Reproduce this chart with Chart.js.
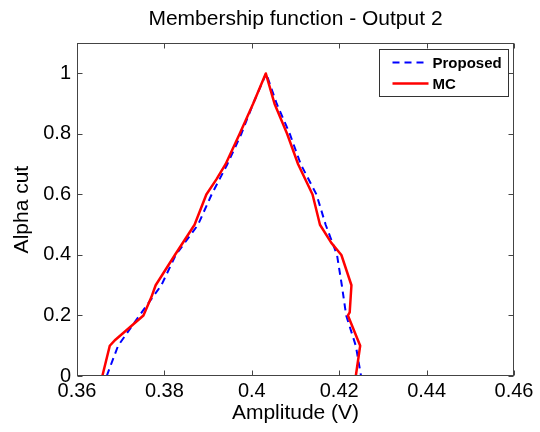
<!DOCTYPE html>
<html>
<head>
<meta charset="utf-8">
<script src="https://cdn.jsdelivr.net/npm/chart.js@4.4.0/dist/chart.umd.min.js"></script>
<style>html,body{margin:0;padding:0;background:#fff}canvas{display:block}</style>
</head>
<body>
<canvas id="c" width="540" height="432"></canvas>
<script>
// ── DATA ──
const xTicks=[0.36,0.38,0.40,0.42,0.44,0.46];
const yTicks=[0,0.2,0.4,0.6,0.8,1];
// Proposed: alpha cuts, left branch up then right branch down
const propAlpha=[0,0.1,0.2,0.3,0.4,0.5,0.6,0.7,0.8,0.9,1,0.9,0.8,0.7,0.6,0.5,0.4,0.3,0.2,0.1,0];
const propAmp=[0.3668,0.3694,0.3743,0.3793,0.3826,0.3877,0.3908,0.3944,0.3976,0.4003,0.4033,
  0.4057,0.4087,0.4112,0.4148,0.4169,0.4195,0.4206,0.4216,0.4238,0.4250];
// MC
const mcAlpha=[0,0.1,0.12,0.2,0.26,0.3,0.4,0.5,0.6,0.65,0.7,0.8,0.9,1,0.9,0.8,0.7,0.6,0.5,0.44,0.4,0.3,0.21,0.2,0.1,0];
const mcAmp=[0.3658,0.3675,0.3688,0.3752,0.3770,0.3780,0.3824,0.3869,0.3896,0.3919,0.3940,0.3972,0.4003,0.4032,
  0.4052,0.4081,0.4106,0.4139,0.4156,0.4182,0.4205,0.4228,0.4224,0.4220,0.4248,0.4238];

const FONT='"Liberation Sans", Arial, Helvetica, sans-serif';
const axisColor='#444';

const pts=(xs,ys)=>xs.map((x,i)=>({x,y:ys[i]}));
const fmt=v=>String(+(+v).toFixed(2));

// ── PLUGINS ──
// MATLAB-style box with inward ticks
const frame={ id:'frame', afterDatasetsDraw(chart){
  const {ctx,chartArea:a,scales:{x,y}}=chart;
  const L=Math.round(a.left)+0.5, R=Math.round(a.right)-0.5, T=Math.round(a.top)+0.5, B=Math.round(a.bottom)-0.5;
  ctx.save();
  ctx.strokeStyle=axisColor; ctx.lineWidth=1;
  ctx.strokeRect(L,T,R-L,B-T);
  ctx.beginPath();
  xTicks.forEach(v=>{ const px=Math.round(x.getPixelForValue(v))+0.5;
    ctx.moveTo(px,B); ctx.lineTo(px,B-5); ctx.moveTo(px,T); ctx.lineTo(px,T+5); });
  yTicks.forEach(v=>{ const py=Math.round(y.getPixelForValue(v))+0.5;
    ctx.moveTo(L,py); ctx.lineTo(L+5,py); ctx.moveTo(R,py); ctx.lineTo(R-5,py); });
  ctx.stroke();
  ctx.restore();
}};

// boxed legend in top right corner of the axes
const boxLegend={ id:'boxLegend', afterDraw(chart){
  const {ctx,chartArea:a}=chart;
  const w=129, h=47, bx=Math.round(a.right)-6-w+0.5, by=Math.round(a.top)+6+0.5;
  ctx.save();
  ctx.fillStyle='#fff'; ctx.fillRect(bx,by,w,h);
  ctx.strokeStyle='#333'; ctx.lineWidth=1; ctx.strokeRect(bx,by,w,h);
  chart.data.datasets.forEach((ds,i)=>{
    const ry=by+13+i*21;
    ctx.beginPath(); ctx.strokeStyle=ds.borderColor; ctx.lineWidth=ds.borderWidth;
    ctx.setLineDash(ds.borderDash||[]);
    ctx.moveTo(bx+13,ry); ctx.lineTo(bx+49,ry); ctx.stroke();
    ctx.setLineDash([]);
    ctx.fillStyle='#000'; ctx.font='bold 15px '+FONT; ctx.textBaseline='middle'; ctx.textAlign='left';
    ctx.fillText(ds.label,bx+53,ry+1);
  });
  ctx.restore();
}};

// ── CHART ──
new Chart(document.getElementById('c'),{
  type:'scatter',
  data:{ datasets:[
    { label:'Proposed', data:pts(propAmp,propAlpha), showLine:true, borderColor:'#0000ff', backgroundColor:'#0000ff',
      borderWidth:2, borderDash:[7,5], borderJoinStyle:'round', pointRadius:0, tension:0, fill:false, order:2 },
    { label:'MC', data:pts(mcAmp,mcAlpha), showLine:true, borderColor:'#ff0000', backgroundColor:'#ff0000',
      borderWidth:2.5, borderJoinStyle:'round', borderCapStyle:'round', pointRadius:0, tension:0, fill:false, order:1 }
  ]},
  options:{
    responsive:false, animation:false, events:[],
    layout:{ padding:{ left:0, right:26, top:0, bottom:0 } },
    plugins:{
      legend:{ display:false }, tooltip:{ enabled:false },
      title:{ display:true, text:'Membership function - Output 2', color:'#000', fullSize:false,
        font:{ family:FONT, size:21, weight:'normal' }, padding:{ top:7, bottom:11 } }
    },
    scales:{
      x:{ type:'linear', min:0.36, max:0.46,
        afterBuildTicks:s=>{ s.ticks=xTicks.map(v=>({value:v})); },
        afterFit:s=>{ s.height=56; },
        ticks:{ color:'#000', font:{ family:FONT, size:20 }, padding:3, maxRotation:0, autoSkip:false, callback:v=>fmt(v) },
        grid:{ display:false, drawTicks:false }, border:{ display:false },
        title:{ display:true, text:'Amplitude (V)', color:'#000', font:{ family:FONT, size:21 }, padding:{ top:0, bottom:6 } }
      },
      y:{ type:'linear', min:0, max:1.1,
        afterBuildTicks:s=>{ s.ticks=yTicks.map(v=>({value:v})); },
        afterFit:s=>{ s.width=77; },
        ticks:{ color:'#000', font:{ family:FONT, size:20 }, padding:6, autoSkip:false, callback:v=>fmt(v) },
        grid:{ display:false, drawTicks:false }, border:{ display:false },
        title:{ display:true, text:'Alpha cut', color:'#000', font:{ family:FONT, size:21 }, padding:{ top:10, bottom:0 } }
      }
    }
  },
  plugins:[frame,boxLegend]
});
</script>
</body>
</html>
